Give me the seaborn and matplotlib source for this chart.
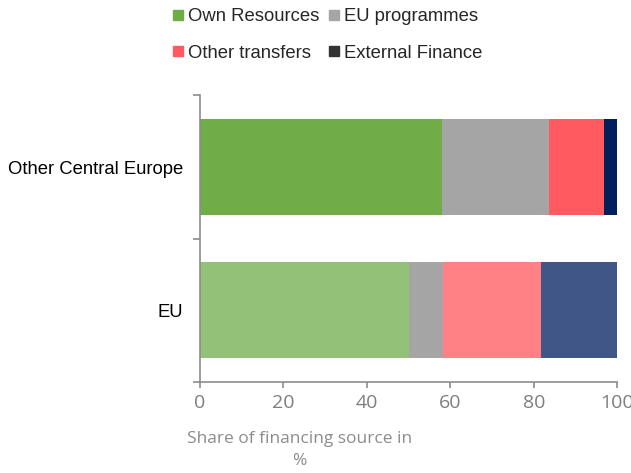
import pandas as pd
import matplotlib.pyplot as plt
import seaborn as sns
from matplotlib.lines import Line2D

# Shares of financing sources (%)
categories = ["Other Central Europe", "EU"]
own_resources = [58.0, 50.0]
eu_programmes = [25.7, 8.3]
other_transfers = [13.2, 23.5]
external_finance = [3.1, 18.2]

segments = ["Own Resources", "EU programmes", "Other transfers", "External Finance"]
# darker shade for the top bar, lighter one for EU
bar_colors = {
    "Own Resources": ["#70AD47", "#93C177"],
    "EU programmes": ["#A5A5A5", "#A5A5A5"],
    "Other transfers": ["#FF5A5F", "#FF8085"],
    "External Finance": ["#001F5C", "#3F5686"],
}
legend_colors = {
    "Own Resources": "#70AD47",
    "EU programmes": "#A5A5A5",
    "Other transfers": "#FF5A5F",
    "External Finance": "#333333",
}

df = pd.DataFrame({
    "Region": categories,
    "Own Resources": own_resources,
    "EU programmes": eu_programmes,
    "Other transfers": other_transfers,
    "External Finance": external_finance,
})
cum = df[segments].cumsum(axis=1)
cum["Region"] = df["Region"]

sns.set_style("white")
plt.rcParams['font.family'] = ['Liberation Sans', 'DejaVu Sans']

fig = plt.figure(figsize=(6.31, 4.73), dpi=100)
ax = fig.add_axes([0.317, 0.1924, 0.661, 0.6058])

# stacked bars: draw the cumulative totals from the right end back to the left
for seg in reversed(segments):
    pal = dict(zip(categories, bar_colors[seg]))
    sns.barplot(data=cum, x=seg, y="Region", hue="Region", palette=pal,
                orient="h", width=0.67, linewidth=0, saturation=1,
                legend=False, ax=ax)

ax.set_xlim(0, 100)
ax.set_ylim(1.5, -0.5)
ax.set_xticks([0, 20, 40, 60, 80, 100])
ax.set_xlabel("")
ax.set_ylabel("")

for s in ["top", "right"]:
    ax.spines[s].set_visible(False)
for s in ["left", "bottom"]:
    ax.spines[s].set_color("#8C8C8C")
    ax.spines[s].set_linewidth(1.2)

ax.tick_params(axis="x", direction="out", length=4, width=1.2, color="#8C8C8C",
               labelcolor="#7F7F7F", labelsize=14, pad=5, bottom=True)
for lab in ax.get_xticklabels():
    lab.set_fontfamily("Open Sans")
ax.tick_params(axis="y", which="major", length=0, labelsize=13.3,
               labelcolor="black", pad=12)
ax.set_yticks([-0.5, 0.5, 1.5], minor=True)
ax.tick_params(axis="y", which="minor", direction="out", length=5, width=1.2,
               color="#8C8C8C", left=True)

fig.text(0.475, 0.088, "Share of financing source in\n%", ha="center", va="top",
         fontsize=12.5, color="#8C8C8C", family="Open Sans", linespacing=1.45)

# legend fills column-wise, so order entries to read row by row
order = ["Own Resources", "Other transfers", "EU programmes", "External Finance"]
handles = [Line2D([], [], marker="s", linestyle="", color=legend_colors[k],
                  markersize=7.5) for k in order]
fig.legend(handles, order, loc="upper left", bbox_to_anchor=(0.253, 1.01),
           ncol=2, frameon=False, fontsize=13.3, handlelength=0.6,
           handletextpad=0.25, columnspacing=0.45, labelspacing=1.05,
           borderpad=0.2)

plt.savefig("out.png", dpi=100)
